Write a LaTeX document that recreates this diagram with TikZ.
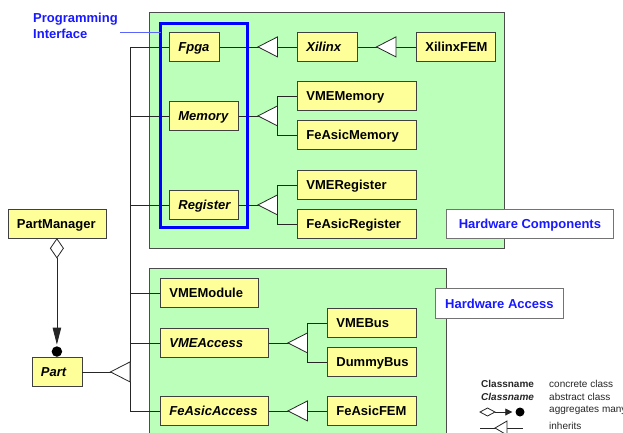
\documentclass[tikz,border=0pt]{standalone}
\usepackage{fontspec}
\setmainfont{Liberation Sans}
\usetikzlibrary{arrows.meta,calc,shadows}
\hyphenpenalty=10000
\definecolor{clsyellow}{RGB}{255,255,153}
\definecolor{pkggreen}{RGB}{187,255,187}
\definecolor{ifblue}{RGB}{0,0,255}
\definecolor{labblue}{RGB}{25,25,255}
\definecolor{pinblue}{RGB}{90,100,255}
\newcommand\clsfont{\fontsize{13}{15}\selectfont\bfseries}
\newcommand\absfont{\fontsize{13}{15}\selectfont\bfseries\itshape}
\newcommand\legfont{\fontsize{10}{12}\selectfont}
\newcommand\inherit[1]{\draw[inhtri] (#1) -- ++(19.5,10) -- ++(0,-20) -- cycle;}
\tikzset{
  cls/.style={draw=black!75, fill=clsyellow, line width=0.8pt, anchor=north west,
    minimum height=29pt, inner xsep=9pt, inner ysep=0pt, text width=#1pt,
    text height=9.4pt, text depth=0pt, align=left, font=\clsfont},
  abs/.style={cls=#1, font=\absfont},
  conn/.style={draw=black!85, line width=0.8pt},
  inhtri/.style={conn, fill=white},
  pkg/.style={draw=black!70, fill=pkggreen, line width=0.8pt,
    drop shadow={shadow xshift=1pt, shadow yshift=-1pt, fill=black!30, opacity=1}},
  pkglabel/.style={draw=black!55, fill=white, line width=0.8pt, anchor=north west,
    minimum height=29pt, inner sep=0pt, text height=9.4pt, text depth=0pt,
    text=labblue, font=\clsfont,
    drop shadow={shadow xshift=1pt, shadow yshift=-1pt, fill=black!30, opacity=1}},
  legtxt/.style={anchor=west, inner sep=0pt, font=\legfont, text=black!85},
}
\begin{document}
\begin{tikzpicture}[x=1pt,y=-1pt]
\useasboundingbox (0,0) rectangle (623,432);
\clip (0,0) rectangle (623,432);

% packages
\draw[pkg] (149,12) rectangle (504,248);
\draw[pkg] (149,268) rectangle (446,445);

% classes
\node[abs=32] (Fpga) at (169,32) {Fpga};
\node[abs=51] (Memory) at (169,101) {Memory};
\node[abs=51] (Register) at (169,190) {Register};
\node[abs=42] (Xilinx) at (297,32) {Xilinx};
\node[cls=61] (XilinxFEM) at (416,32) {XilinxFEM};
\node[cls=101] (VMEMemory) at (297,81) {VMEMemory};
\node[cls=101] (FeAsicMemory) at (297,120) {FeAsicMemory};
\node[cls=101] (VMERegister) at (297,170) {VMERegister};
\node[cls=101] (FeAsicRegister) at (297,209) {FeAsicRegister};
\node[cls=80] (PartManager) at (7.5,209) {PartManager};
\node[abs=32] (Part) at (31.5,357) {Part};
\node[cls=80] (VMEModule) at (160,278) {VMEModule};
\node[abs=90] (VMEAccess) at (160,328) {VMEAccess};
\node[abs=90] (FeAsicAccess) at (160,396) {FeAsicAccess};
\node[cls=71] (VMEBus) at (327,308) {VMEBus};
\node[cls=71] (DummyBus) at (327,347) {DummyBus};
\node[cls=71] (FeAsicFEM) at (327,396) {FeAsicFEM};

% package labels
\node[pkglabel, minimum width=167pt] (hwc) at (446,209) {Hardware Components};
\node[pkglabel, minimum width=128pt, minimum height=30pt] (hwa) at (435,288) {Hardware Access};

% column positions for the connectors
\coordinate (busx) at (130,0);
\coordinate (partx) at (110.5,0);
\coordinate (cb) at (258,0);
\coordinate (cbb) at (277.5,0);
\coordinate (cx) at (376.5,0);
\coordinate (cd) at (288,0);
\coordinate (cdb) at (307.5,0);

% common bus from Part
\draw[conn] (Fpga.west) -- (Fpga.west -| busx) -- (FeAsicAccess.west -| busx) -- (FeAsicAccess.west);
\foreach \n in {Memory,Register,VMEModule,VMEAccess}
  \draw[conn] (\n.west) -- (\n.west -| busx);
\draw[conn] (Part.east) -- (Part.east -| busx);

% inheritance lines
\draw[conn] (Fpga.east) -- (Xilinx.west);
\draw[conn] (Xilinx.east) -- (XilinxFEM.west);
\draw[conn] (Memory.east) -- (Memory.east -| cbb);
\draw[conn] (VMEMemory.west) -- (VMEMemory.west -| cbb) -- (FeAsicMemory.west -| cbb) -- (FeAsicMemory.west);
\draw[conn] (Register.east) -- (Register.east -| cbb);
\draw[conn] (VMERegister.west) -- (VMERegister.west -| cbb) -- (FeAsicRegister.west -| cbb) -- (FeAsicRegister.west);
\draw[conn] (VMEAccess.east) -- (VMEAccess.east -| cdb);
\draw[conn] (VMEBus.west) -- (VMEBus.west -| cdb) -- (DummyBus.west -| cdb) -- (DummyBus.west);
\draw[conn] (FeAsicAccess.east) -- (FeAsicFEM.west);

% inheritance triangles
\inherit{Fpga.east -| cb}
\inherit{Memory.east -| cb}
\inherit{Register.east -| cb}
\inherit{Xilinx.east -| cx}
\inherit{VMEAccess.east -| cd}
\inherit{FeAsicAccess.east -| cd}
\inherit{Part.east -| partx}

% aggregation PartManager -> Part
\draw[conn, fill=white] (PartManager.south) -- ++(6.5,9.5) -- ++(-6.5,9.5) coordinate (pmdb) -- ++(-6.5,-9.5) -- cycle;
\node[circle, fill=black, inner sep=0pt, minimum size=10.5pt, anchor=south] (partdot) at (Part.north) {};
\draw[conn, -{Triangle[length=17pt,width=8.5pt]}, shorten >=1.5pt] (pmdb) -- (partdot.north);

% programming interface
\node[anchor=north west, align=left, inner sep=0pt, text=labblue,
  font=\fontsize{13}{16}\selectfont\bfseries] (ifacelbl) at (33,12.5) {Programming\\Interface};
\coordinate (pin) at (120,32);
\node[draw=ifblue, line width=3pt, minimum width=87pt, minimum height=204pt,
  anchor=north west, inner sep=0pt, outer sep=0pt] (iface) at (160.5,23.5) {};
\draw[pinblue, line width=0.9pt] (pin) -- (pin -| iface.west);

% legend
\node[legtxt] (lgc) at (481,384) {\bfseries Classname};
\node[legtxt] (lga) at (481,397) {\bfseries\itshape Classname};
\node[legtxt] (lgcd) at (549,384) {concrete class};
\node[legtxt] (lgad) at (549,397) {abstract class};
\node[legtxt] (lggd) at (549,410) {aggregates many};
\node[legtxt] (lgid) at (549,426) {inherits};
\coordinate (lgd) at (480,412);
\draw[conn, fill=white] (lgd) -- ++(7.5,-4) -- ++(7.5,4) coordinate (lgde) -- ++(-7.5,4) -- cycle;
\node[circle, fill=black, inner sep=0pt, minimum size=9pt] (lgdot) at (520,412) {};
\draw[conn, -{Triangle[length=7pt,width=7pt]}, shorten >=3pt] (lgde) -- (lgdot.west);
\coordinate (lgi1) at (480,428);
\coordinate (lgi2) at (523,428);
\draw[conn] (lgi1) -- (lgi2);
\draw[inhtri] (495,428) -- ++(12,7) -- ++(0,-14) -- cycle;
\end{tikzpicture}
\end{document}
